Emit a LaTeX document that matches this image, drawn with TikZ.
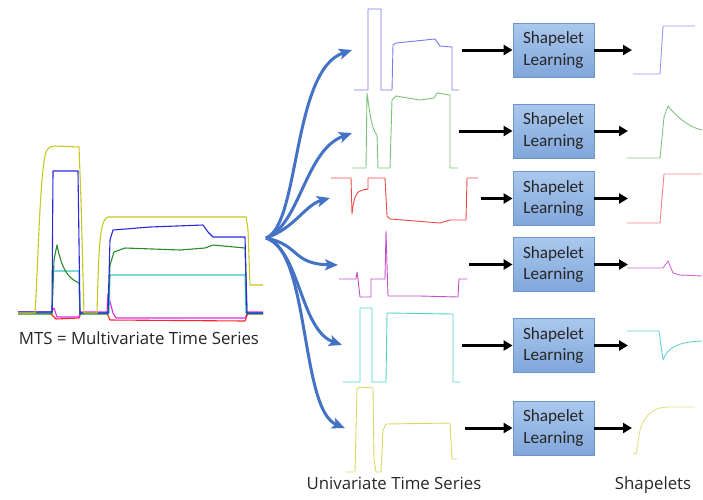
\documentclass[tikz,border=0pt]{standalone}
\usepackage{fontspec}
\setmainfont{Carlito}
\newfontfamily\capfont{Open Sans}
\usetikzlibrary{arrows.meta}

% series colours: full (MTS), medium (univariate), light (shapelets)
\definecolor{mY}{RGB}{200,200,30}
\definecolor{mB}{RGB}{40,40,225}
\definecolor{mG}{RGB}{40,140,40}
\definecolor{mC}{RGB}{50,195,195}
\definecolor{mM}{RGB}{225,40,225}
\definecolor{mR}{RGB}{240,40,40}
\definecolor{uB}{RGB}{120,120,240}
\definecolor{uG}{RGB}{120,195,120}
\definecolor{uR}{RGB}{240,70,70}
\definecolor{uM}{RGB}{195,80,200}
\definecolor{uC}{RGB}{80,210,210}
\definecolor{uY}{RGB}{215,215,100}
\definecolor{sB}{RGB}{150,150,250}
\definecolor{sG}{RGB}{130,195,130}
\definecolor{sR}{RGB}{250,130,130}
\definecolor{sM}{RGB}{210,100,210}
\definecolor{sC}{RGB}{100,210,210}
\definecolor{sY}{RGB}{225,225,130}
\definecolor{fanblue}{RGB}{68,114,196}
\definecolor{boxtop}{RGB}{170,200,238}
\definecolor{boxbot}{RGB}{128,166,218}
\definecolor{boxedge}{RGB}{110,148,205}

\begin{document}
\begin{tikzpicture}[x=1pt,y=-1pt,
  series/.style={line width=1.1pt,line join=round},
  useries/.style={line width=0.9pt,line join=round},
  sseries/.style={line width=0.9pt,line join=round},
  learnbox/.style={minimum width=81pt,minimum height=54pt,inner sep=0pt,
    top color=boxtop,bottom color=boxbot,draw=boxedge,line width=0.8pt,
    align=center,font=\fontsize{17.2}{21.5}\selectfont,text=black!85},
  flowarrow/.style={line width=3pt,black,-{Triangle[length=9pt,width=10pt]}},
  fanarrow/.style={line width=3pt,fanblue,-{Stealth[length=13pt,width=11pt,inset=3pt]}},
  caption/.style={font=\capfont\fontsize{16.8}{20}\selectfont,text=black!85}]
\useasboundingbox (0,0) rectangle (703,499);

% ---- multivariate series ----
\draw[series,mR] (18,313)--(50,313)--(54,317)--(56,319)--(79,318)--(81,313)--(107,313)--(110,320)--(245,321)--(248,313)--(263,313);
\draw[series,mM] (18,312)--(51,312)--(54,308)--(57,317)--(79,317)--(80,312)--(107,312)--(108,294)--(113,313)--(116,318)--(245,318)--(248,312)--(263,312);
\draw[series,mC] (18,313)--(52,313)--(53,271)--(79,271)--(80,313)--(109,313)--(110,275)--(245,275)--(246,313)--(263,313);
\draw[series,mG] (18,314)--(52,314)--(54,260)--(57,245) .. controls (62,270) and (68,278) .. (79,283) -- (80,314)--(108,314)--(110,265)--(114,252)--(125,248)--(180,250)--(205,248)--(213,245)--(245,248)--(247,314)--(263,314);
\draw[series,mB] (18,312)--(52,312)--(53,171)--(78,171)--(80,313)--(108,313)--(110,240)--(113,230)--(150,227)--(203,225)--(208,232)--(213,237)--(245,237)--(247,313)--(263,313);
\draw[series,mY] (18,313)--(35,313) .. controls (38,270) and (40,160) .. (47,150) -- (50,147)--(55,146)--(79,147)--(81,200)--(84,313)--(97,313) .. controls (99,240) and (100,220) .. (108,217) -- (246,217)--(248,230)--(250,285)--(263,285);
\node[caption] (mtslabel) at (139,338) {MTS = Multivariate Time Series};

% ---- fan of arrows ----
\coordinate (hub) at (266,238);
\coordinate (t1) at (352,50);
\coordinate (t2) at (352,133);
\coordinate (t3) at (330,198);
\coordinate (t4) at (338,265);
\coordinate (t5) at (342,345);
\coordinate (t6) at (345,428);
\draw[fanarrow] (hub) .. controls (300,225) and (292,70) .. (t1);
\draw[fanarrow] (hub) .. controls (300,225) and (305,150) .. (t2);
\draw[fanarrow] (hub) .. controls (295,228) and (305,205) .. (t3);
\draw[fanarrow] (hub) .. controls (300,245) and (292,264) .. (t4);
\draw[fanarrow] (hub) .. controls (300,250) and (300,330) .. (t5);
\draw[fanarrow] (hub) .. controls (310,250) and (300,410) .. (t6);

% ---- univariate series ----
\draw[useries,uB] (354,90)--(368,90)--(368,9)--(381,9)--(381,90)--(392,90)--(393,45)--(396,43)--(435,39)--(440,46)--(452,47)--(452,90)--(459,90);
\draw[useries,uG] (352,168)--(366,168)--(367,93) .. controls (370,115) and (372,130) .. (377,135) -- (378,168)--(390,168)--(392,100)--(396,96)--(420,100)--(434,98)--(437,93)--(450,95)--(450,168)--(458,168);
\draw[useries,uR] (331,178)--(351,178)--(352,214) .. controls (354,195) and (357,191) .. (363,190) -- (368,189)--(368,178)--(385,178)--(387,216)--(390,219)--(440,223)--(450,220)--(466,220)--(467,178)--(478,178);
\draw[useries,uM] (339,279)--(356,279)--(357,272)--(358,279)--(360,297)--(371,297)--(371,279)--(385,279)--(386,231)--(388,296)--(420,296)--(458,297)--(459,279)--(467,279);
\draw[useries,uC] (343,382)--(360,382)--(360,308)--(372,308)--(372,382)--(386,382)--(387,314)--(388,313)--(453,314)--(453,382)--(460,382);
\draw[useries,uY] (346,472)--(355,472)--(356,430)--(357,389)--(360,387)--(373,388)--(374,460)--(376,472)--(381,472)--(383,430)--(386,424)--(450,423)--(452,459)--(457,459);
\node[caption] (unilabel) at (394,483) {Univariate Time Series};

% ---- learning boxes ----
\node[learnbox] (b1) at (553.5,50) {Shapelet\\Learning};
\node[learnbox] (b2) at (553.5,131) {Shapelet\\Learning};
\node[learnbox] (b3) at (553.5,198.5) {Shapelet\\Learning};
\node[learnbox] (b4) at (553.5,264.5) {Shapelet\\Learning};
\node[learnbox] (b5) at (553.5,345.5) {Shapelet\\Learning};
\node[learnbox] (b6) at (553.5,428) {Shapelet\\Learning};

\coordinate (i1) at (462,50);
\coordinate (i2) at (459,131);
\coordinate (i3) at (481,198.5);
\coordinate (i4) at (469,264.5);
\coordinate (i5) at (462,345.5);
\coordinate (i6) at (465,428);
\coordinate (o1) at (632,50);
\coordinate (o2) at (628,131);
\coordinate (o3) at (628,198.5);
\coordinate (o4) at (628,264.5);
\coordinate (o5) at (628,345.5);
\coordinate (o6) at (632,428);
\foreach \k in {1,...,6}{
  \draw[flowarrow] (i\k) -- (b\k.west);
  \draw[flowarrow] (b\k.east) -- (o\k);
}

% ---- shapelets ----
\draw[sseries,sB] (633,74)--(660,74)--(663,26)--(695,26);
\draw[sseries,sG] (627,158)--(660,158)--(664,117)--(668,106) .. controls (676,116) and (688,127) .. (702,130);
\draw[sseries,sR] (627,223)--(660,223)--(664,174)--(702,174);
\draw[sseries,sM] (627,268)--(663,268)--(668,261)--(673,273)--(680,275)--(702,276);
\draw[sseries,sC] (627,331)--(659,331)--(663,360) .. controls (668,346) and (680,342) .. (702,341);
\draw[sseries,sY] (633,453)--(636,454)--(640,430) .. controls (645,415) and (652,408) .. (667,407) -- (695,407);
\node[caption] (shplabel) at (653,485) {Shapelets};
\end{tikzpicture}
\end{document}
